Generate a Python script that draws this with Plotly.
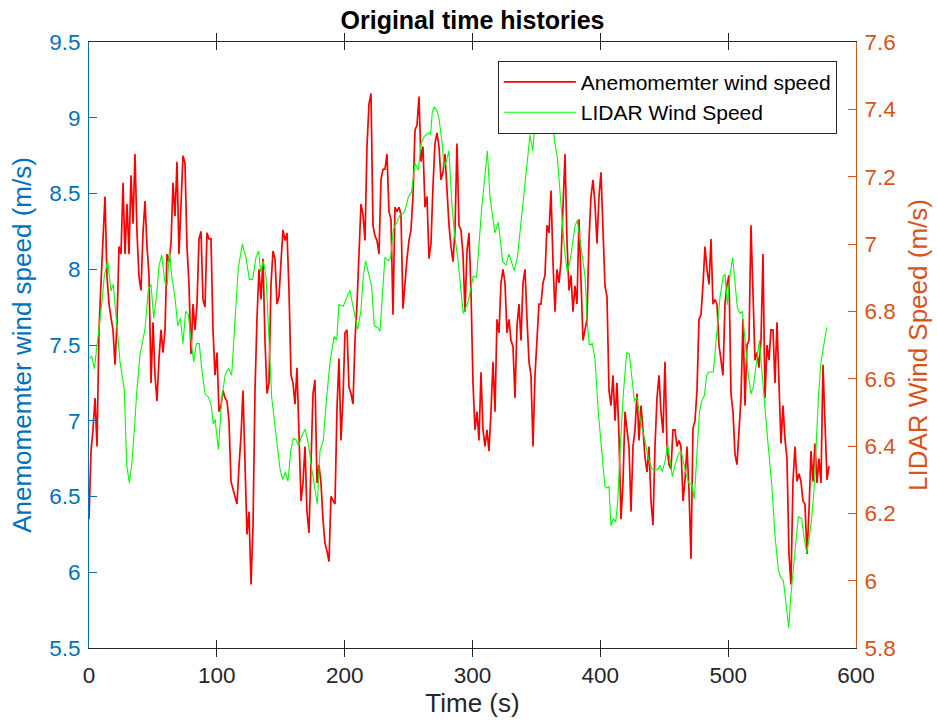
import plotly.graph_objects as go

# ---------------- data ----------------
# Anemometer wind speed (m/s), sampled every ~1.5645 s from t = 0
sample_period = 1.5645
anemometer_speed = [
    # 0 - 95 s
    6.35, 6.80, 6.94, 7.15, 6.83, 7.60, 7.91, 8.17, 8.48, 7.95, 7.77, 7.68, 7.60, 7.37, 7.65, 8.15, 8.10, 8.57, 8.10, 8.43, 8.10,
    8.62, 8.30, 8.76, 8.24, 7.95, 7.86, 8.24, 8.45, 8.15, 7.96, 7.25, 7.65, 7.30, 7.13, 7.41, 7.60, 7.45, 7.60, 8.10, 8.05,
    8.17, 8.57, 8.35, 8.71, 8.10, 8.45, 8.75, 8.70, 8.15, 7.90, 7.44, 7.77, 7.60, 7.77, 8.20, 8.25, 7.80, 7.75, 8.24, 8.20,
    # 95 - 196 s
    8.20, 7.60, 7.30, 7.45, 7.06, 7.10, 7.20, 7.15, 7.13, 7.00,
    6.60, 6.55, 6.50, 6.45, 6.70, 6.90, 7.20, 6.80, 6.25, 6.40,
    5.92, 6.30, 7.20, 7.68, 8.00, 7.80, 8.07, 7.53, 7.18, 7.25,
    7.90, 8.12, 8.07, 7.77, 7.82, 8.05, 8.26, 8.19, 8.24, 7.86,
    7.30, 7.25, 7.11, 7.35, 6.83, 6.47, 6.59, 6.83, 6.40, 6.26,
    6.71, 7.18, 7.27, 6.59, 6.71, 6.59, 6.35, 6.19, 6.14, 6.07,
    6.50, 6.47, 6.45, 7.08, 7.41,
    # 197 - 291 s
    6.87, 7.15, 7.58, 7.60, 7.22, 7.18, 7.11, 7.53, 7.77, 8.17,
    8.43, 8.36, 8.19, 8.81, 9.09, 9.16, 8.29, 8.22, 8.19, 8.10,
    8.59, 8.66, 8.66, 8.76, 8.38, 8.33, 7.70, 8.41, 8.38, 8.41,
    8.36, 7.74, 7.93, 8.07, 8.19, 8.26, 8.48, 8.92, 8.95, 9.14,
    8.71, 8.81, 8.41, 8.48, 8.07, 8.17, 8.55, 8.83, 8.90, 8.81,
    8.59, 8.64, 8.76, 8.48, 8.29, 8.15, 8.05, 8.26, 8.83, 8.29,
    8.26,
    # 293 - 386 s
    8.10, 7.72, 8.12, 8.24, 7.86, 7.25, 6.94, 7.06, 6.87, 7.32,
    6.94, 6.83, 6.94, 6.80, 7.06, 7.39, 7.06, 7.67, 7.58, 7.91,
    8.00, 7.91, 7.58, 7.67, 7.53, 7.49, 7.15, 7.63, 7.77, 7.53,
    7.91, 8.00, 7.67, 7.39, 7.30, 6.83, 7.30, 7.58, 7.77, 7.77,
    7.91, 7.96, 8.29, 8.24, 8.52, 8.05, 7.72, 8.00, 7.91, 8.05,
    8.41, 8.76, 8.19, 7.86, 7.96, 7.72, 7.89, 7.77, 8.33, 7.86,
    7.53,
    # 388 - 485 s
    7.60, 7.67, 8.19, 8.48, 8.59, 8.43, 8.17, 8.48, 8.64, 8.24,
    7.89, 7.82, 7.20, 7.10, 7.30, 7.00, 7.25, 6.90, 6.35, 6.59,
    7.06, 6.94, 6.83, 6.40, 6.83, 6.94, 7.18, 6.87, 7.10, 6.94,
    6.76, 6.66, 6.83, 6.47, 6.31, 6.83, 7.15, 7.30, 7.06, 6.92,
    7.39, 6.83, 6.71, 6.68, 6.94, 6.94, 6.83, 6.87, 6.83, 6.47,
    6.61, 6.83, 6.54, 6.09, 6.95, 7.00, 7.20, 7.67, 7.70, 7.90,
    8.15, 8.00, 7.90,
    # 487 - 579 s
    8.20, 7.77, 7.80, 7.77, 7.50, 7.40, 7.30, 7.77, 7.90, 7.96,
    7.18, 7.06, 6.78, 6.71, 6.94, 7.15, 7.67, 7.10, 7.50, 7.53,
    8.29, 7.77, 7.40, 7.45, 7.35, 7.53, 8.10, 7.15, 7.50, 7.40,
    7.60, 7.60, 7.25, 7.65, 7.30, 6.85, 7.10, 6.88, 6.75, 6.12,
    5.92, 6.60, 6.83, 6.60, 6.65, 6.60, 6.47, 6.45, 6.12, 6.40,
    6.80, 6.60, 6.85, 6.59, 6.75, 6.59, 7.37, 6.94, 6.61, 6.70,
]
anemometer_time = [i * sample_period for i in range(len(anemometer_speed))]

# LIDAR wind speed (m/s)
lidar_time = [
    0.0, 2.1, 4.2, 6.0, 7.8, 9.9, 12.0, 14.6, 17.2, 19.0, 21.6, 24.3, 27.6, 29.5, 31.6, 33.4, 35.5, 37.3, 39.9, 43.8,
    46.4, 48.5, 50.6, 53.0, 54.8, 56.9, 59.5, 61.3, 62.9, 64.7, 67.3, 69.4, 71.5, 73.5, 75.6, 77.7, 79.8, 81.9, 84.0, 86.3,
    88.2, 90.8, 93.4, 95.5, 97.3,
    98.6, 101.2, 103.8, 106.4, 109.0, 111.6, 114.2, 116.8, 120.0, 122.8, 125.4, 128.0, 130.6, 132.7, 134.3, 136.4, 138.5,
    140.3, 142.9, 146.8, 149.4, 151.5, 153.6, 155.7, 157.8, 159.9, 162.0, 164.0, 166.4, 169.0, 171.6, 174.2, 176.8, 178.6,
    180.7, 183.3, 185.9, 188.6, 191.7, 193.8,
    195.5, 198.9, 201.5, 204.1, 205.4, 208.0, 210.1, 212.7, 214.6, 216.4, 218.5, 221.1, 223.2, 225.8, 227.6, 229.4, 231.5,
    234.1, 236.0, 238.0, 240.6, 243.3, 245.9, 247.7, 249.8, 252.4, 255.0, 257.6, 259.7, 262.3, 265.4, 267.2, 268.6, 270.1,
    271.9, 273.8, 275.9, 277.9, 279.8, 281.6, 283.7, 285.8, 288.4, 291.0, 292.8,
    296.7, 300.6, 303.2, 307.2, 311.6, 313.7, 317.6, 320.2, 323.6, 326.2, 328.5, 330.6, 332.7, 335.1, 338.4, 341.8, 345.0,
    347.1, 348.9, 350.7, 353.6, 356.7, 360.1, 362.7, 364.5, 366.4, 368.4, 370.5, 372.4, 374.2, 376.3, 378.4, 380.2, 382.0,
    384.1, 386.2, 388.0, 389.8, 391.4,
    393.7, 395.8, 398.4, 401.0, 403.6, 405.7, 406.8, 408.3, 410.2, 412.0, 413.6, 415.6, 418.0, 420.6, 422.7, 424.5, 426.6,
    428.4, 430.2, 432.3, 434.9, 437.6, 440.2, 442.8, 445.4, 446.7, 448.5, 450.6, 452.7, 454.5, 456.3, 458.4, 461.0, 463.1,
    465.5, 467.5, 469.6, 471.5, 473.5, 475.4, 477.5, 479.3, 481.4, 483.2, 485.0,
    488.4, 491.0, 493.6, 496.2, 497.5, 499.4, 501.4, 503.5, 505.4, 507.2, 509.3, 511.1, 513.2, 515.8, 517.9, 519.7, 522.3,
    524.4, 526.2, 528.8, 531.4, 534.0, 536.7, 539.3, 541.1, 543.2, 545.3, 547.4, 548.9, 551.0, 553.1, 554.9, 557.5, 559.3,
    561.4, 563.5, 565.3, 567.2, 568.7, 570.6, 572.6, 574.5, 577.1,
]
lidar_speed = [
    6.66, 6.667, 6.63, 6.693, 6.736, 6.82, 6.905, 6.95, 6.86, 6.88, 6.767, 6.65, 6.566, 6.343, 6.29, 6.343, 6.45, 6.555,
    6.672, 6.747, 6.863, 6.88, 6.78, 6.85, 6.937, 6.967, 6.884, 6.879, 6.98, 6.905, 6.84, 6.757, 6.78, 6.704, 6.8, 6.79,
    6.715, 6.65, 6.704, 6.704, 6.63, 6.555, 6.545, 6.523, 6.465,
    6.48, 6.39, 6.535, 6.61, 6.63, 6.61, 6.77, 6.93, 7.0, 6.96, 6.895, 6.895, 6.96, 6.98, 6.916, 6.95, 6.905, 6.736,
    6.545, 6.417, 6.333, 6.30, 6.322, 6.296, 6.386, 6.423, 6.418, 6.40, 6.43, 6.45, 6.407, 6.333, 6.27, 6.227, 6.386,
    6.417, 6.545, 6.65, 6.725, 6.714,
    6.82, 6.815, 6.84, 6.863, 6.836, 6.78, 6.746, 6.8, 6.905, 6.95, 6.916, 6.874, 6.757, 6.752, 6.74, 6.84, 6.96, 6.95,
    6.96, 7.043, 7.065, 7.086, 7.091, 7.107, 7.139, 7.155, 7.24, 7.22, 7.298, 7.32, 7.33, 7.325, 7.393, 7.406, 7.399,
    7.372, 7.31, 7.229, 7.25, 7.277, 7.128, 7.033, 6.96, 6.863, 6.794,
    6.83, 6.905, 6.9, 7.107, 7.277, 7.139, 7.033, 7.065, 6.948, 6.937, 6.97, 6.948, 6.921, 6.96, 7.086, 7.213, 7.324,
    7.277, 7.362, 7.383, 7.34, 7.372, 7.393, 7.357, 7.298, 7.256, 7.15, 7.054, 6.97, 6.916, 6.948, 7.0, 7.054, 7.07,
    7.01, 6.95, 6.905, 6.767, 6.7,
    6.704, 6.66, 6.5, 6.396, 6.28, 6.275, 6.28, 6.163, 6.184, 6.174, 6.237, 6.396, 6.555, 6.677, 6.674, 6.61, 6.534,
    6.545, 6.5, 6.46, 6.417, 6.364, 6.333, 6.327, 6.333, 6.343, 6.324, 6.354, 6.407, 6.354, 6.31, 6.343, 6.375, 6.386,
    6.343, 6.31, 6.285, 6.29, 6.243, 6.375, 6.5, 6.534, 6.55, 6.61, 6.62,
    6.62, 6.72, 6.842, 6.905, 6.91, 6.82, 6.905, 6.96, 6.884, 6.81, 6.794, 6.8, 6.714, 6.61, 6.555, 6.576, 6.651,
    6.714, 6.63, 6.5, 6.396, 6.29, 6.131, 6.03, 6.01, 6.0, 5.93, 5.86, 5.95, 6.025, 6.12, 6.19, 6.184, 6.13, 6.083,
    6.13, 6.184, 6.27, 6.396, 6.545, 6.65, 6.693, 6.752,
]
assert len(lidar_time) == len(lidar_speed)

x_ticks = [0, 100, 200, 300, 400, 500, 600]
left_ticks = [5.5, 6, 6.5, 7, 7.5, 8, 8.5, 9, 9.5]
right_ticks = [5.8, 6, 6.2, 6.4, 6.6, 6.8, 7, 7.2, 7.4, 7.6]

# ---------------- styling ----------------
FONT = "Liberation Sans, Arial, Helvetica, sans-serif"
BLUE = "#0072BD"
ORANGE = "#D95319"
DARK = "#262626"
TICK_SIZE = 22.5
LABEL_SIZE = 26

fig = go.Figure()
fig.add_trace(go.Scatter(
    x=anemometer_time, y=anemometer_speed, mode="lines",
    name="Anemomemter wind speed", line=dict(color="#FF0000", width=1.7),
    yaxis="y",
))
fig.add_trace(go.Scatter(
    x=lidar_time, y=lidar_speed, mode="lines",
    name="LIDAR Wind Speed", line=dict(color="#00FF00", width=1.1),
    yaxis="y2",
))

fig.update_layout(
    width=937, height=722,
    margin=dict(l=89, r=81, t=42, b=74, autoexpand=False),
    paper_bgcolor="white", plot_bgcolor="white",
    font=dict(family=FONT, size=TICK_SIZE, color=DARK),
    title=dict(
        text="Original time histories",
        font=dict(family=FONT, size=25, color="#000000", weight="bold"),
        x=0.5, xref="paper", xanchor="center",
        y=0.972, yref="container", yanchor="middle",
    ),
    xaxis=dict(
        range=[0, 600], tickvals=x_ticks, ticks="inside", ticklen=8,
        tickcolor=DARK, showline=True, linecolor=DARK, linewidth=1,
        mirror="allticks", showgrid=False, zeroline=False, automargin=False,
        tickfont=dict(family=FONT, size=TICK_SIZE, color=DARK),
        ticklabelstandoff=7,
        title=dict(text="Time (s)", font=dict(family=FONT, size=LABEL_SIZE, color=DARK), standoff=4),
    ),
    yaxis=dict(
        range=[5.5, 9.5], tickvals=left_ticks, ticks="inside", ticklen=8,
        tickcolor=BLUE, showline=True, linecolor=BLUE, linewidth=1,
        showgrid=False, zeroline=False, automargin=False,
        tickfont=dict(family=FONT, size=TICK_SIZE, color=BLUE),
        ticklabelstandoff=3,
        title=dict(text="Anemomemter wind speed (m/s)", font=dict(family=FONT, size=LABEL_SIZE, color=BLUE), standoff=10),
    ),
    yaxis2=dict(
        range=[5.8, 7.6], tickvals=right_ticks, ticks="inside", ticklen=8,
        tickcolor=ORANGE, showline=True, linecolor=ORANGE, linewidth=1,
        showgrid=False, zeroline=False, overlaying="y", side="right", automargin=False,
        tickfont=dict(family=FONT, size=TICK_SIZE, color=ORANGE),
        ticklabelstandoff=3,
        title=dict(text="LIDAR Wind Speed (m/s)", font=dict(family=FONT, size=LABEL_SIZE, color=ORANGE), standoff=14),
    ),
    legend=dict(
        x=0.975, y=0.969, xanchor="right", yanchor="top",
        bgcolor="white", bordercolor=DARK, borderwidth=1,
        font=dict(family=FONT, size=21, color="#000000"),
        itemwidth=72, tracegroupgap=0,
    ),
    showlegend=True,
)

fig.write_html("out.html")
